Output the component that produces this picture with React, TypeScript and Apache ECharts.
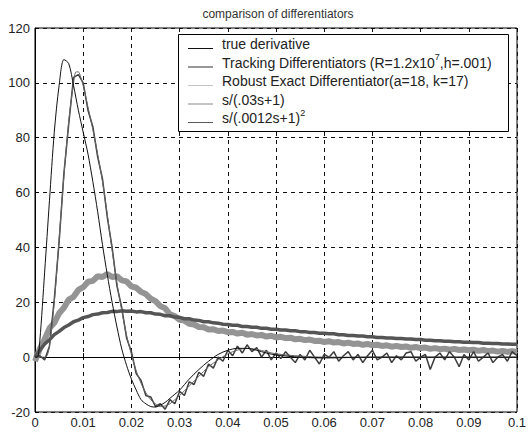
import React, { useEffect, useRef } from "react";
import * as echarts from "echarts";

// ---- data ----
const chartTitle = "comparison of differentiators";
const xTickLabels = ["0", "0.01", "0.02", "0.03", "0.04", "0.05", "0.06", "0.07", "0.08", "0.09", "0.1"];
const yTickLabels = ["-20", "0", "20", "40", "60", "80", "100", "120"];

// true derivative (smooth, thin black)
const trueT = [0, 0.0005, 0.001, 0.002, 0.003, 0.004, 0.005, 0.006, 0.007, 0.008, 0.009, 0.010, 0.011, 0.012, 0.013, 0.014, 0.015, 0.016, 0.017, 0.018, 0.019, 0.020, 0.021, 0.022, 0.023, 0.024, 0.025, 0.026, 0.027, 0.028, 0.030, 0.032, 0.034, 0.036, 0.038, 0.040, 0.042, 0.044, 0.046, 0.048, 0.050, 0.055, 0.060, 0.070, 0.080, 0.090, 0.100];
const trueV = [0, 0, 6, 31, 57, 82, 99, 108.5, 107, 99, 90, 82, 74, 64, 53, 41, 30, 20, 11, 3, -3, -8, -12, -15.5, -17, -18, -18.2, -17.5, -16.5, -15, -12, -8, -4.5, -1.5, 1, 2.5, 3.2, 3.2, 2.5, 1.5, 0.8, 0, -0.3, 0, 0, 0, 0];

// s/(.0012s+1)^2 (smooth, thin)
const filtT = [0, 0.002, 0.0025, 0.003, 0.004, 0.005, 0.006, 0.007, 0.008, 0.0085, 0.009, 0.0095, 0.010, 0.011, 0.012, 0.013, 0.014, 0.015, 0.016, 0.017, 0.018, 0.019, 0.020, 0.021, 0.022, 0.023, 0.024, 0.025, 0.026, 0.027, 0.028, 0.029, 0.030, 0.032, 0.034, 0.036, 0.038, 0.040, 0.042, 0.044, 0.046, 0.048, 0.050, 0.055, 0.060, 0.070, 0.080, 0.090, 0.100];
const filtV = [0, 0, 0.5, 4, 20, 43, 66, 86, 100, 104, 104, 102, 99, 91, 83, 74, 64, 52, 39, 27, 17, 8, 1, -5, -9.5, -13, -15.5, -17, -18, -17.8, -17, -15.5, -14, -10.5, -7, -3.5, -1, 1.2, 2.6, 3.2, 2.8, 2, 1.2, 0.4, 0, 0, 0, 0, 0];

// sampled every 1 ms from t = 0 to 0.1
const sampleStep = 0.001;
// Tracking Differentiator (noisy, dark)
const trackV = [0, 0.5, -1, 4, 21, 42, 67, 85, 102, 103, 100, 90, 84, 73, 65, 51, 40, 26, 18, 7, 2, -6, -8.5, -14, -14.5, -18, -17, -19, -15.5, -17, -12.5, -14, -9, -10, -5.5, -7, -2.5, -4, 0, -1.5, 2.5, 0.5, 4, 1.5, 4.5, 2, 3.5, 0, 2.5, -1, 1.5, -0.5, 2, 0, -2, 1, -1, 2.5, 0, -2.5, 1, 0, 2, -1.5, 0.5, 2, -1, 1, -2, 0.5, 2.5, -1, 0, 1.5, -2, 0.5, -1, 1.5, 2, -1.5, 0, 1, -4.5, 0, 1.5, -1, 2, 0, -3.5, 1, -1, 2, -1.5, 0, 1.5, -2, 0, 1, -1.5, 2, 0.5];
// Robust Exact Differentiator (noisy, light band)
const robustV = [-1.5, 3, 6.5, 10.5, 12.5, 16, 18, 21, 22, 24.5, 25.5, 27.5, 27.8, 29.5, 29.2, 30.3, 29.2, 29.5, 28, 27.6, 25.8, 25.3, 23.8, 23, 21.3, 20.4, 18.6, 17.8, 15.6, 15, 13.6, 13.3, 12.2, 11.9, 11, 10.9, 10.1, 10.2, 9.5, 9.7, 9.1, 9.2, 8.6, 8.9, 8.2, 8.4, 7.9, 8.1, 7.5, 7.8, 7.2, 7.4, 6.9, 7.1, 6.5, 6.7, 6.2, 6.4, 5.9, 6.0, 5.5, 5.8, 5.3, 5.5, 5.0, 5.3, 4.8, 5.0, 4.5, 4.8, 4.3, 4.5, 4.1, 4.3, 3.8, 4.1, 3.7, 3.9, 3.4, 3.7, 3.3, 3.5, 3.0, 3.3, 2.9, 3.1, 2.7, 3.0, 2.6, 2.8, 2.5, 2.7, 2.3, 2.6, 2.2, 2.4, 2.0, 2.3, 1.9, 2.2, 1.9];
// s/(.03s+1) (dark band)
const lagV = [0, 2.5, 4.8, 6.3, 8.2, 9.4, 10.8, 11.7, 12.9, 13.5, 14.4, 14.8, 15.5, 15.7, 16.2, 16.3, 16.7, 16.6, 16.9, 16.7, 16.8, 16.5, 16.6, 16.2, 16.2, 15.7, 15.6, 15.1, 15.1, 14.6, 14.5, 14.0, 14.0, 13.5, 13.4, 12.9, 12.9, 12.5, 12.4, 12.0, 11.9, 11.6, 11.6, 11.2, 11.2, 10.9, 10.9, 10.5, 10.5, 10.2, 10.2, 9.9, 9.9, 9.6, 9.6, 9.3, 9.3, 9.0, 9.0, 8.7, 8.7, 8.5, 8.5, 8.2, 8.2, 7.9, 7.9, 7.7, 7.7, 7.4, 7.4, 7.2, 7.2, 7.0, 7.0, 6.8, 6.8, 6.6, 6.6, 6.4, 6.4, 6.2, 6.2, 6.0, 6.0, 5.8, 5.8, 5.6, 5.6, 5.4, 5.4, 5.3, 5.3, 5.1, 5.1, 5.0, 5.0, 4.8, 4.8, 4.7, 4.7];

const legendNames = [
  "true derivative",
  "Tracking Differentiators (R=1.2x10{sup|7},h=.001)",
  "Robust Exact Differentiator(a=18, k=17)",
  "s/(.03s+1)",
  "s/(.0012s+1){sup|2}",
];
const legendColors = ["#111111", "#333333", "#c6c6c6", "#8a8a8a", "#5a5a5a"];

const pairs = (ts: number[], vs: number[]) => vs.map((v, i) => [ts[i], v]);
const sampled = (vs: number[]) => vs.map((v, i) => [Number((i * sampleStep).toFixed(4)), v]);

export default function App() {
  const ref = useRef<HTMLDivElement>(null);
  useEffect(() => {
    if (!ref.current) return;
    const chart = echarts.init(ref.current, undefined, { renderer: "svg" });
    const font = "'Liberation Sans', Arial, sans-serif";
    const legendTop = 44;
    const rowGap = 18.5;
    const legendGraphics: any[] = [
      {
        type: "rect",
        shape: { x: 178.5, y: 34.5, width: 330, height: 97 },
        style: { fill: "#fff", stroke: "#000", lineWidth: 1 },
        z: 100,
      },
    ];
    legendNames.forEach((name, i) => {
      const y = legendTop + i * rowGap;
      legendGraphics.push({
        type: "line",
        shape: { x1: 188, y1: y + 4.5, x2: 213, y2: y + 4.5 },
        style: { stroke: legendColors[i], lineWidth: 1 },
        z: 101,
      });
      legendGraphics.push({
        type: "text",
        x: 222,
        y: y,
        style: {
          text: name,
          fill: "#222",
          fontSize: 14,
          fontFamily: font,
          verticalAlign: "middle",
          lineHeight: 20,
          rich: {
            sup: { fontSize: 9, fill: "#222", fontFamily: font, verticalAlign: "top", lineHeight: 10 },
          },
        },
        z: 101,
      });
    });

    chart.setOption({
      animation: false,
      backgroundColor: "#fff",
      title: {
        text: chartTitle,
        left: 273,
        textAlign: "center",
        top: 3,
        textStyle: { fontSize: 12, fontWeight: "normal", color: "#333", fontFamily: font },
      },
      grid: { left: 35, right: 15, top: 28, bottom: 26, show: true, borderColor: "#000", borderWidth: 1 },
      xAxis: {
        type: "value",
        min: 0,
        max: 0.1,
        interval: 0.01,
        axisLine: { show: true, lineStyle: { color: "#000" } },
        axisTick: { show: true, inside: true, length: 4, lineStyle: { color: "#000" } },
        splitLine: { show: true, lineStyle: { color: "#111", type: [4, 4], width: 1 } },
        axisLabel: {
          color: "#222",
          fontSize: 13,
          fontFamily: font,
          margin: 4,
          formatter: (v: number) => xTickLabels[Math.round(v * 100)] ?? "",
        },
      },
      yAxis: {
        type: "value",
        min: -20,
        max: 120,
        interval: 20,
        axisLine: { show: true, lineStyle: { color: "#000" } },
        axisTick: { show: true, inside: true, length: 4, lineStyle: { color: "#000" } },
        splitLine: { show: true, lineStyle: { color: "#111", type: [4, 4], width: 1 } },
        axisLabel: {
          color: "#222",
          fontSize: 13,
          fontFamily: font,
          margin: 5,
          formatter: (v: number) => yTickLabels[Math.round((v + 20) / 20)] ?? "",
        },
      },
      series: [
        {
          name: "Robust Exact Differentiator(a=18, k=17)",
          type: "line",
          data: sampled(robustV),
          showSymbol: false,
          lineStyle: { color: "#949494", width: 6 },
        },
        {
          name: "s/(.03s+1)",
          type: "line",
          data: sampled(lagV),
          showSymbol: false,
          lineStyle: { color: "#555", width: 3.5 },
        },
        {
          name: "Tracking Differentiators",
          type: "line",
          data: sampled(trackV),
          showSymbol: false,
          lineStyle: { color: "#3c3c3c", width: 1.5 },
        },
        {
          name: "s/(.0012s+1)^2",
          type: "line",
          data: pairs(filtT, filtV),
          showSymbol: false,
          smooth: 0.3,
          lineStyle: { color: "#666", width: 1 },
        },
        {
          name: "true derivative",
          type: "line",
          data: pairs(trueT, trueV),
          showSymbol: false,
          smooth: 0.3,
          lineStyle: { color: "#111", width: 1 },
        },
      ],
      graphic: legendGraphics,
    });
    return () => chart.dispose();
  }, []);
  return (
    <div
      ref={ref}
      style={{ position: "fixed", left: 0, top: 0, width: 532, height: 438, background: "#fff" }}
    />
  );
}
